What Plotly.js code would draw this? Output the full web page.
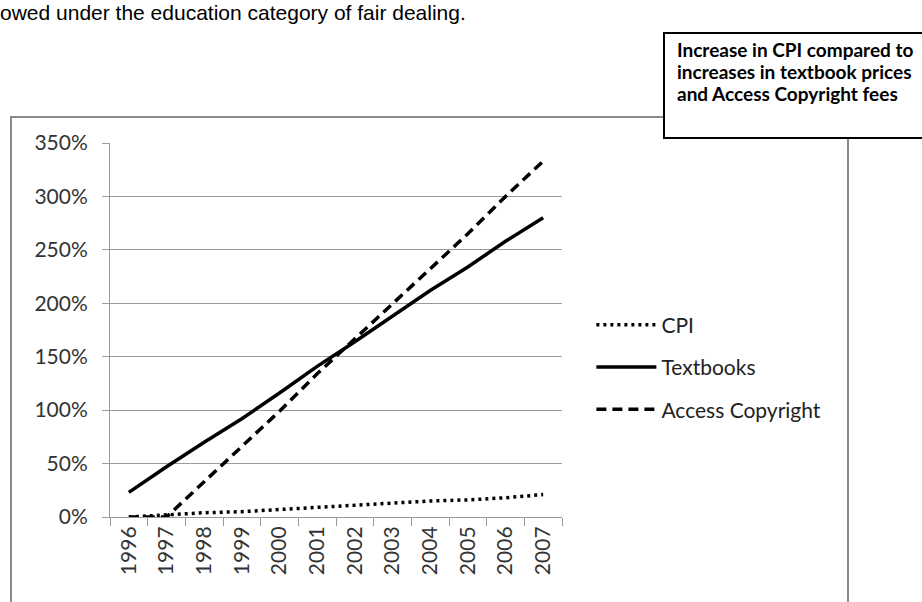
<!DOCTYPE html>
<html>
<head>
<meta charset="utf-8">
<script src="https://cdn.plot.ly/plotly-3.0.1.min.js"></script>
<style>html,body{margin:0;padding:0;background:#fff;}#chart{width:922px;height:602px;}</style>
</head>
<body>
<div id="chart"></div>
<script>
const years = ["1996","1997","1998","1999","2000","2001","2002","2003","2004","2005","2006","2007"];
const cpi = [0, 2, 4, 5, 7, 9, 11, 13, 15, 16, 18, 21];
const textbooks = [23, 47, 70, 92, 116, 141, 164, 188, 212, 234, 258, 280];
const accessCopyright = [0, 0, 33, 66, 99, 134, 167, 200, 232, 265, 300, 333];
const seriesNames = ["CPI", "Textbooks", "Access Copyright"];
const titleLines = ["Increase in CPI compared to", "increases in textbook prices", "and Access Copyright fees"];
const topText = "owed under the education category of fair dealing.";

const lineW = 3.5;
const traces = [
  {x: years, y: cpi, name: seriesNames[0], legendgroup: "a", mode: "lines",
   line: {color: "#000", width: lineW, dash: "3px,4px"}},
  {x: years, y: textbooks, name: seriesNames[1], legendgroup: "b", mode: "lines",
   line: {color: "#000", width: lineW}},
  {x: years, y: accessCopyright, name: seriesNames[2], legendgroup: "c", mode: "lines",
   line: {color: "#000", width: lineW, dash: "10px,6px"}}
];

const tickFont = {family: "Lato, 'Open Sans', sans-serif", size: 21, color: "#333"};
const gridC = "#9a9a9a";

const titleAnns = titleLines.map((t, i) => ({
  xref: "paper", yref: "paper", x: (675-110)/452, y: (517-(50 + 22*i))/374,
  xanchor: "left", yanchor: "middle", align: "left", showarrow: false,
  text: "<b>" + t + "</b>",
  font: {family: "Lato, sans-serif", size: 19, color: "#000"}
}));

const layout = {
  width: 922, height: 602,
  margin: {l: 110, r: 360, t: 143, b: 85, pad: 0},
  paper_bgcolor: "#fff", plot_bgcolor: "#fff",
  showlegend: true,
  legend: {x: 1.065, xanchor: "left", y: 0.568, yanchor: "top",
    font: {family: "Lato, sans-serif", size: 21, color: "#222"},
    bgcolor: "rgba(0,0,0,0)", borderwidth: 0, tracegroupgap: 12, itemwidth: 60,
    traceorder: "grouped"},
  xaxis: {type: "category", range: [-0.5, 11.5], tickson: "boundaries", ticks: "outside", ticklen: 8,
    tickcolor: gridC, tickwidth: 1, showline: true, linecolor: gridC, linewidth: 1,
    showgrid: false, tickangle: -90, tickfont: tickFont, fixedrange: true},
  yaxis: {range: [0, 350], dtick: 50, ticksuffix: "%", ticks: "outside", ticklen: 7,
    ticklabelstandoff: 10,
    tickcolor: gridC, showline: true, linecolor: gridC, linewidth: 1,
    gridcolor: gridC, gridwidth: 1, zeroline: false, tickfont: tickFont, fixedrange: true},
  shapes: [
    {type: "rect", xref: "paper", yref: "paper", x0: (11-110)/452, x1: (848-110)/452,
     y0: (517-640)/374, y1: (517-117)/374, line: {color: "#8a8a8a", width: 2},
     fillcolor: "rgba(0,0,0,0)", layer: "below"},
    {type: "rect", xref: "paper", yref: "paper", x0: (664-110)/452, x1: (935-110)/452,
     y0: (517-138)/374, y1: (517-33)/374, line: {color: "#000", width: 2},
     fillcolor: "#fff", layer: "above"}
  ],
  annotations: titleAnns.concat([
    {xref: "paper", yref: "paper", x: (-2-110)/452, y: (517+1)/374, xanchor: "left", yanchor: "top",
     showarrow: false, text: topText,
     font: {family: "Liberation Sans, Arial, sans-serif", size: 21, color: "#000"}}
  ])
};

Plotly.newPlot("chart", traces, layout, {displayModeBar: false, staticPlot: true});
</script>
</body>
</html>
